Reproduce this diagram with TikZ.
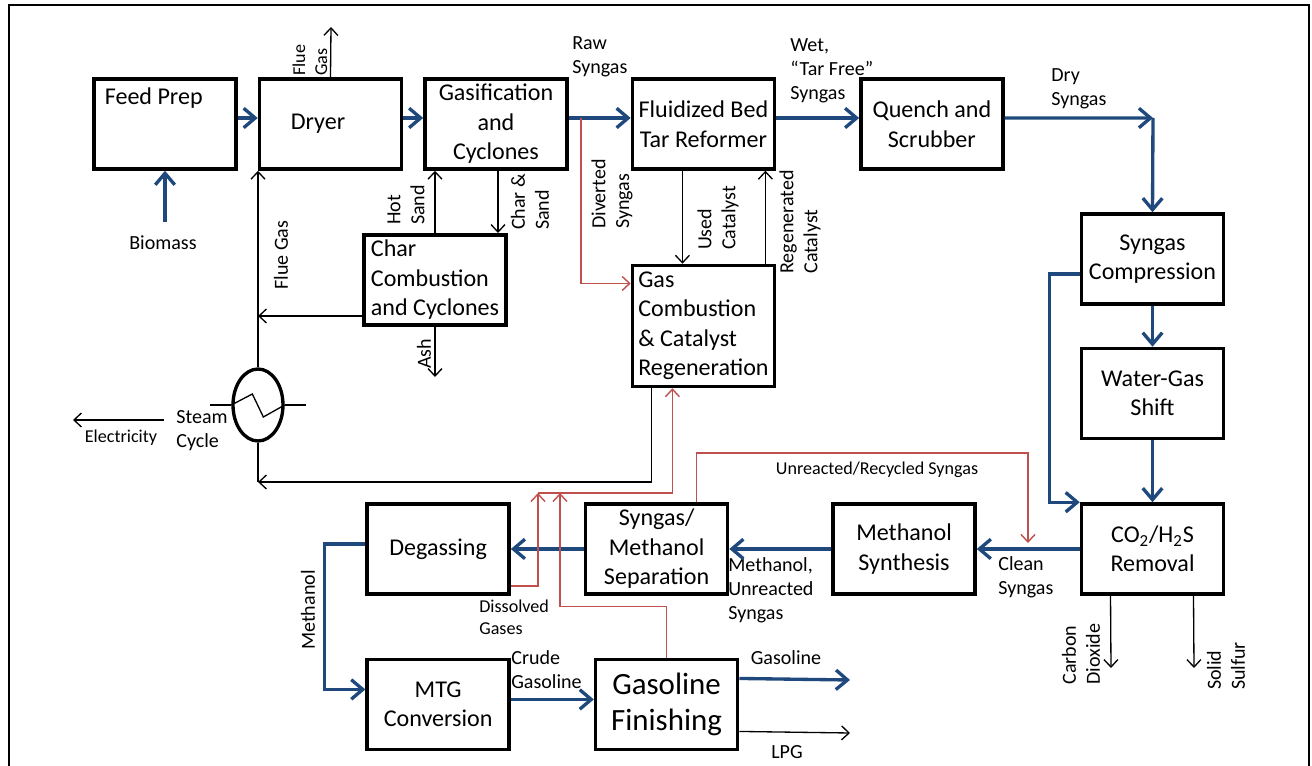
\documentclass[tikz,border=0pt]{standalone}
\usepackage{fontspec}
\setmainfont{Carlito}
\usepackage{xcolor}
\usepackage{tikz}
\usetikzlibrary{shapes.geometric,arrows.meta,positioning}
\definecolor{flowblue}{HTML}{1F497D}
\definecolor{recyred}{HTML}{C0504D}
\newcommand{\boxfont}{\fontsize{13.7}{16.8}\selectfont}
\newcommand{\bigboxfont}{\fontsize{17.6}{21}\selectfont}
\newcommand{\lblfont}{\fontsize{11.4}{13.6}\selectfont}
\newcommand{\smlfont}{\fontsize{10.3}{12.5}\selectfont}
\tikzset{
  blk/.style   = {rectangle, draw=black, line width=2pt, fill=white,
                  align=center, font=\boxfont, minimum width=2.84cm, minimum height=1.8cm, inner sep=2pt},
  blkl/.style  = {blk, align=left},
  lbl/.style   = {font=\lblfont, align=left, inner sep=0pt},
  lbls/.style  = {font=\smlfont, align=left, inner sep=0pt},
  fl/.style    = {-{Straight Barb[length=2.3mm,width=3.9mm]}, line width=1.9pt, flowblue},
  tl/.style    = {-{Straight Barb[length=1.5mm,width=2.8mm]}, line width=0.75pt, black},
  rl/.style    = {-{Straight Barb[length=1.5mm,width=2.8mm]}, line width=0.8pt, recyred},
  frm/.style   = {line width=1.3pt, black},
}

\begin{document}
\begin{tikzpicture}[x=0.02cm, y=-0.02cm]
  \useasboundingbox (0,0) rectangle (1312,766);
  \draw[frm] (9,766) -- (9,5) -- (1309,5) -- (1309,766);

  % main train
  \node[blk, text height=0.36cm, text depth=1.12cm] (feed) at (165,124) {Feed Prep\hspace*{0.45cm}};
  \node[blk, right=0.4cm of feed] (dryer) {Dryer\hspace*{0.5cm}};
  \node[blk, right=0.4cm of dryer] (gasif) {Gasification\\and\\Cyclones};
  \node[blk, right=1.24cm of gasif] (tarref) {Fluidized Bed\\Tar Reformer};
  \node[blk, right=1.66cm of tarref] (quench) {Quench and\\Scrubber};
  \node[blkl] (char) at (435,280) {Char\\Combustion\\and Cyclones};
  \node[blkl, minimum height=2.42cm, below=1.86cm of tarref] (gcomb) {Gas\\Combustion\\\& Catalyst\\Regeneration};
  \node[blk] (comp) at (1152.5,259) {Syngas\\Compression};
  \node[blk, below=0.82cm of comp] (wgs) {Water-Gas\\Shift};
  \node[blk, below=1.24cm of wgs] (rem) {CO\textsubscript{2}/H\textsubscript{2}S\\Removal};
  \node[blk, left=2.06cm of rem] (msyn) {Methanol\\Synthesis};
  \node[blk, left=2.04cm of msyn] (sep) {Syngas/\\Methanol\\Separation};
  \node[blk, left=1.46cm of sep] (degas) {Degassing};
  \node[blk, below=1.24cm of degas] (mtg) {MTG\\Conversion};
  \node[blk, font=\bigboxfont, right=1.66cm of mtg] (gfin) {Gasoline\\Finishing};
  \node[ellipse, draw, line width=1.9pt, minimum width=1.0cm, minimum height=1.44cm, inner sep=0pt] (hx) at (258,405) {};

  % labels
  \node[lbl, anchor=west] (rawlbl) at (572,57) {Raw\\Syngas};
  \node[lbl, anchor=west] (wetlbl) at (790,71) {Wet,\\“Tar Free”\\Syngas};
  \node[lbl, anchor=west] (drylbl) at (1051,89) {Dry\\Syngas};
  \node[lbls, rotate=90] (fluetop) at (310,60) {Flue\\Gas};
  \node[lbl, rotate=90] (fluelbl) at (281,255) {Flue Gas};
  \node[lbl, rotate=90] (hotlbl) at (406,205) {Hot\\Sand};
  \node[lbl, rotate=90] (charlbl) at (530,202) {Char \&\\Sand};
  \node[lbl, rotate=90] (ashlbl) at (424,354) {Ash};
  \node[lbl, rotate=90] (divlbl) at (612,194) {Diverted\\Syngas};
  \node[lbl, rotate=90] (usedlbl) at (718,218) {Used\\Catalyst};
  \node[lbl, rotate=90] (regenlbl) at (800,222) {Regenerated\\Catalyst};
  \node[lbl] (biolbl) at (163,243) {Biomass};
  \node[lbl, anchor=west] (steamlbl) at (176,431) {Steam\\Cycle};
  \node[lbls] (eleclbl) at (121,438) {Electricity};
  \node[lbls] (unrlbl) at (877,470) {Unreacted/Recycled Syngas};
  \node[lbl, anchor=west] (cleanlbl) at (998,577) {Clean\\Syngas};
  \node[lbl, rotate=90] (co2lbl) at (1081,654) {Carbon\\Dioxide};
  \node[lbl, rotate=90] (sulflbl) at (1226,666) {Solid\\Sulfur};
  \node[lbl, anchor=west] (mulbl) at (728,590) {Methanol,\\Unreacted\\Syngas};
  \node[lbls, anchor=west] (dislbl) at (479,617) {Dissolved\\Gases};
  \node[lbl, rotate=90] (methlbl) at (308,610) {Methanol};
  \node[lbl, anchor=west] (crudelbl) at (511,670) {Crude\\Gasoline};
  \node[lbl] (gaslbl) at (786,658) {Gasoline};
  \node[lbl] (lpglbl) at (787,752) {LPG};

  % free ends and corners
  \coordinate (fluetip) at (331,27);
  \coordinate (dvsplit) at (581,118);
  \coordinate (drycorner) at (1153,118);
  \coordinate (fgcorner) at (258,482);
  \coordinate (ashtip) at (435,377);
  \coordinate (chsand) at (498,233);
  \coordinate (hdrA) at (538,493);
  \coordinate (hdrB) at (560,493);
  \coordinate (rcycorner) at (1028,453);
  \coordinate (rcytip) at (1028,543);
  \coordinate (co2tip) at (1111,668);
  \coordinate (sulftip) at (1194,668);
  \coordinate (gastip) at (850,680);
  \coordinate (lpgtip) at (850,733);
  \coordinate (elecA) at (164,420);
  \coordinate (elecB) at (73,420);

  % syngas / product flows
  \draw[fl] ([yshift=-1.02cm]feed.south) -- (feed.south);
  \draw[fl] ([yshift=0.12cm]feed.east) -- ([yshift=0.12cm]dryer.west);
  \draw[fl] ([yshift=0.12cm]dryer.east) -- ([yshift=0.12cm]gasif.west);
  \draw[fl] ([yshift=0.12cm]gasif.east) -- ([yshift=0.12cm]tarref.west);
  \draw[fl] ([yshift=0.12cm]tarref.east) -- ([yshift=0.12cm]quench.west);
  \draw[fl] ([yshift=0.12cm]quench.east) -- (drycorner);
  \draw[fl] (drycorner) -- (comp.north);
  \draw[fl] (comp.south) -- (wgs.north);
  \draw[fl] (wgs.south) -- (rem.north);
  \draw[fl] ([yshift=-0.3cm]comp.west) -- ++(-30,0) |- (rem.north west);
  \draw[fl] (rem.west) -- (msyn.east);
  \draw[fl] (msyn.west) -- (sep.east);
  \draw[fl] (sep.west) -- (degas.east);
  \draw[fl] ([yshift=0.1cm]degas.west) -- ++(-41,0) |- ([yshift=0.3cm]mtg.west);
  \draw[fl] ([yshift=0.1cm]mtg.east) -- ([yshift=0.1cm]gfin.west);
  \draw[fl] ([yshift=0.52cm]gfin.east) -- (gastip);

  % solids, flue gas and by-products
  \draw[tl] (dryer.north) -- (fluetip);
  \draw[tl] (hx.north) -- (hx.north |- dryer.south);
  \draw[tl] ([yshift=-0.72cm]char.west) -- ([yshift=-0.72cm]char.west -| hx.north);
  \draw[tl] (char.north) -- (char.north |- gasif.south);
  \draw[tl] (chsand |- gasif.south) -- (chsand);
  \draw[tl] (char.south) -- (ashtip);
  \draw[tl] ([xshift=-0.42cm]tarref.south) -- ([xshift=-0.42cm]gcomb.north);
  \draw[tl] ([xshift=1.24cm]gcomb.north) -- ([xshift=1.24cm]tarref.south);
  \draw[tl] ([xshift=-1.04cm]gcomb.south) |- (fgcorner);
  \draw[line width=1.6pt] (fgcorner) -- (hx.south);
  \draw[line width=1.6pt] (hx.west) -- ++(-21,0);
  \draw[line width=1.6pt] (hx.east) -- ++(21,0);
  \draw[line width=0.75pt] (hx.west) -- ++(21,-11) -- ++(11,23) -- (hx.east);
  \draw[tl] (elecA) -- (elecB);
  \draw[tl] ([xshift=-0.84cm]rem.south) -- (co2tip);
  \draw[tl] ([xshift=0.82cm]rem.south) -- (sulftip);
  \draw[tl] ([yshift=-0.54cm]gfin.east) -- (lpgtip);

  % recycle gas
  \draw[rl] (dvsplit) |- ([yshift=0.85cm]gcomb.west);
  \draw[rl] ([xshift=0.8cm]sep.north) |- (rcycorner) -- (rcytip);
  \draw[rl] (hdrA) -| ([xshift=-0.62cm]gcomb.south);
  \draw[rl] ([yshift=-0.74cm]degas.east) -| (hdrA);
  \draw[rl] (gfin.north) -- ++(0,-51) -| (hdrB);
\end{tikzpicture}
\end{document}
